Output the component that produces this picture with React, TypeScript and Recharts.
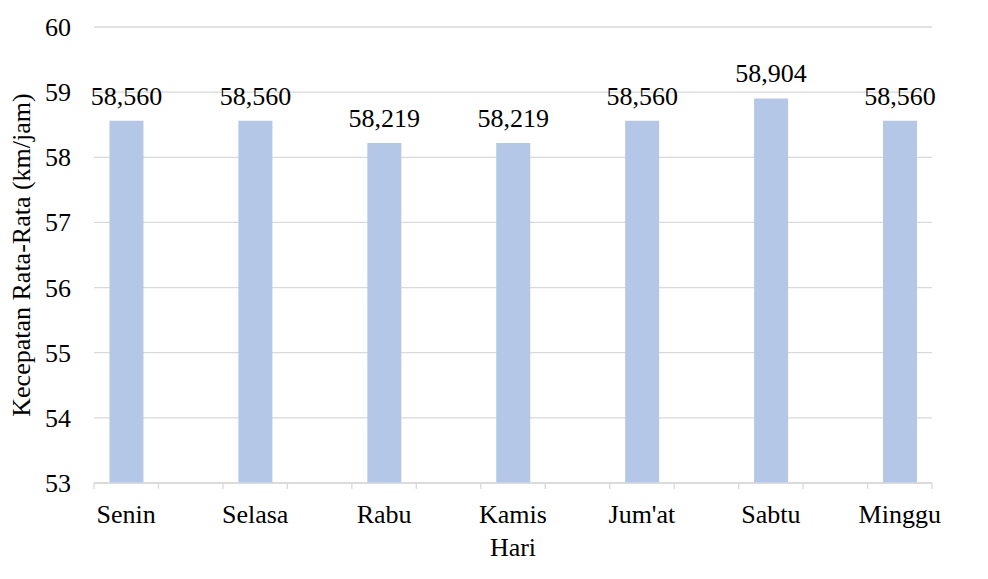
import React from 'react';
import { BarChart, Bar, XAxis, YAxis, CartesianGrid, LabelList } from 'recharts';

// every other slot is empty, the way the source sheet laid out the days
const days = ['Senin', '', 'Selasa', '', 'Rabu', '', 'Kamis', '', "Jum'at", '', 'Sabtu', '', 'Minggu'];
const speeds: (number | null)[] = [58.56, null, 58.56, null, 58.219, null, 58.219, null, 58.56, null, 58.904, null, 58.56];
const yTicks = [53, 54, 55, 56, 57, 58, 59, 60];

const data = days.map((d, i) => ({ key: `${i}`, hari: d, kecepatan: speeds[i] }));

const FONT = 'Liberation Serif';
const W = 988;
const H = 579;
const margin = { top: 27, right: 56, bottom: 66, left: 34 };
const Y_AXIS_W = 60;
const plotW = W - margin.left - margin.right - Y_AXIS_W;
const step = plotW / days.length;

const DayTick = (props: any) => {
  const { x, y, index } = props;
  const label = days[index] ?? '';
  const last = index === days.length - 1;
  return (
    <g>
      <line x1={x - step / 2} x2={x - step / 2} y1={y} y2={y + 6} stroke="#D9D9D9" strokeWidth={1.3} />
      {last && <line x1={x + step / 2} x2={x + step / 2} y1={y} y2={y + 6} stroke="#D9D9D9" strokeWidth={1.3} />}
      <text x={x} y={y + 40} textAnchor="middle" fontFamily={FONT} fontSize={26} fill="#000">
        {label}
      </text>
    </g>
  );
};

const ValueTick = (props: any) => {
  const { x, y, payload } = props;
  return (
    <text x={x} y={y} dy={9} textAnchor="end" fontFamily={FONT} fontSize={26} fill="#000">
      {payload.value}
    </text>
  );
};

const fmt = (v: any) => (v == null ? '' : Number(v).toFixed(3).replace('.', ','));

const BarValue = (props: any) => {
  const { x, y, width, value } = props;
  if (value == null) return null;
  return (
    <text x={x + width / 2} y={y - 16} textAnchor="middle" fontFamily={FONT} fontSize={26} fill="#000">
      {fmt(value)}
    </text>
  );
};

export default function App() {
  return (
    <div style={{ position: 'absolute', left: 0, top: 0, background: '#fff' }}>
      <BarChart width={W} height={H} data={data} margin={margin} barCategoryGap="24%">
        <CartesianGrid vertical={false} stroke="#D9D9D9" strokeWidth={1.3} />
        <XAxis
          dataKey="key"
          interval={0}
          height={30}
          stroke="#D9D9D9"
          strokeWidth={1.3}
          tickLine={false}
          tickSize={0}
          tickMargin={0}
          tick={<DayTick />}
          label={{ value: 'Hari', position: 'bottom', offset: 25, fontFamily: FONT, fontSize: 26, fill: '#000' }}
        />
        <YAxis
          width={Y_AXIS_W}
          domain={[53, 60]}
          ticks={yTicks}
          interval={0}
          axisLine={false}
          tickLine={false}
          tickSize={0}
          tickMargin={23}
          tick={<ValueTick />}
          label={{
            value: 'Kecepatan Rata-Rata (km/jam)',
            angle: -90,
            position: 'insideLeft',
            dx: -18,
            style: { textAnchor: 'middle' },
            fontFamily: FONT,
            fontSize: 26,
            fill: '#000',
          }}
        />
        <Bar dataKey="kecepatan" fill="#B4C7E7" isAnimationActive={false}>
          <LabelList dataKey="kecepatan" content={<BarValue />} />
        </Bar>
      </BarChart>
    </div>
  );
}
